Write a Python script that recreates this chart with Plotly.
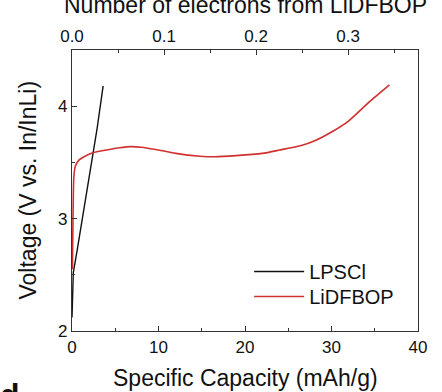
import plotly.graph_objects as go

# Data
lpscl_cap = [0.0, 0.08, 0.15, 0.6, 1.2, 2.0, 2.9, 3.6]
lpscl_v = [2.12, 2.35, 2.52, 2.72, 3.0, 3.38, 3.8, 4.18]

lidfbop_cap = [0.05, 0.1, 0.15, 0.22, 0.4, 0.8, 1.5, 2.4, 4.0, 5.5, 6.8, 8.0, 10.0,
               12.0, 14.8, 16.5, 19.0, 22.0, 24.0, 26.5, 28.0, 30.0, 32.0, 34.4, 36.7]
lidfbop_v = [2.55, 2.9, 3.2, 3.38, 3.47, 3.52, 3.555, 3.585, 3.61, 3.63, 3.64, 3.635, 3.61,
             3.58, 3.555, 3.55, 3.56, 3.58, 3.61, 3.65, 3.69, 3.77, 3.87, 4.04, 4.19]

x_ticks = [0, 10, 20, 30, 40]
y_ticks = [2, 3, 4]
top_ticks = [0.0, 0.1, 0.2, 0.3]
top_max = 0.376  # electrons corresponding to 40 mAh/g

FONT = "Liberation Sans, Arial, sans-serif"
AX = "#333333"

fig = go.Figure()
fig.add_trace(go.Scatter(x=lpscl_cap, y=lpscl_v, mode="lines", name="LPSCl",
                         legend="legend",
                         line=dict(color="#111111", width=1.4)))
fig.add_trace(go.Scatter(x=lidfbop_cap, y=lidfbop_v, mode="lines", name="LiDFBOP",
                         legend="legend2",
                         line=dict(color="#d0302f", width=1.6, shape="spline", smoothing=0.6)))
# invisible trace to activate the top axis
fig.add_trace(go.Scatter(x=[0, top_max], y=[None, None], xaxis="x2", showlegend=False,
                         hoverinfo="skip"))

common = dict(showline=True, linecolor=AX, linewidth=1.2, ticks="inside", ticklen=5,
              tickcolor=AX, tickwidth=1, showgrid=False, zeroline=False,
              tickfont=dict(family=FONT, size=17, color="#111"))

leg = dict(xanchor="left", yanchor="top", itemwidth=50, bgcolor="rgba(0,0,0,0)",
           font=dict(family=FONT, size=20, color="#111"))

fig.update_layout(
    width=442, height=392,
    margin=dict(l=72, r=24, t=50, b=61),
    paper_bgcolor="white", plot_bgcolor="white",
    font=dict(family=FONT, color="#111"),
    xaxis=dict(range=[0, 40], tickvals=x_ticks, mirror=False,
               minor=dict(dtick=5, ticks="inside", ticklen=3, tickcolor=AX), **common),
    xaxis2=dict(range=[0, top_max], overlaying="x", side="top", tickvals=top_ticks,
                tickformat=".1f", anchor="y",
                minor=dict(dtick=0.05, ticks="inside", ticklen=3, tickcolor=AX), **common),
    yaxis=dict(range=[2, 4.5], tickvals=y_ticks, mirror=True,
               minor=dict(dtick=0.5, ticks="inside", ticklen=3, tickcolor=AX), **common),
    legend=dict(x=0.512, y=0.281, **leg),
    legend2=dict(x=0.512, y=0.192, **leg),
    showlegend=True,
    annotations=[
        dict(text="Number of electrons from LiDFBOP", xref="paper", yref="paper",
             x=0.5, y=1.16, xanchor="center", yanchor="middle", showarrow=False,
             font=dict(family=FONT, size=23, color="#111")),
        dict(text="Specific Capacity (mAh/g)", xref="paper", yref="paper",
             x=0.5, y=-0.168, xanchor="center", yanchor="middle", showarrow=False,
             font=dict(family=FONT, size=23, color="#111")),
        dict(text="Voltage (V vs. In/InLi)", xref="paper", yref="paper",
             x=-0.13, y=0.5, xanchor="center", yanchor="middle", textangle=-90,
             showarrow=False, font=dict(family=FONT, size=23, color="#111")),
        dict(text="<b>d</b>", xref="paper", yref="paper", x=-0.18, y=-0.157,
             xanchor="center", yanchor="top", showarrow=False,
             font=dict(family=FONT, size=32, color="#111")),
    ],
)

fig.write_html("out.html", config={"displayModeBar": False},
               post_script="document.body.style.margin='0';document.body.style.overflow='hidden';")
